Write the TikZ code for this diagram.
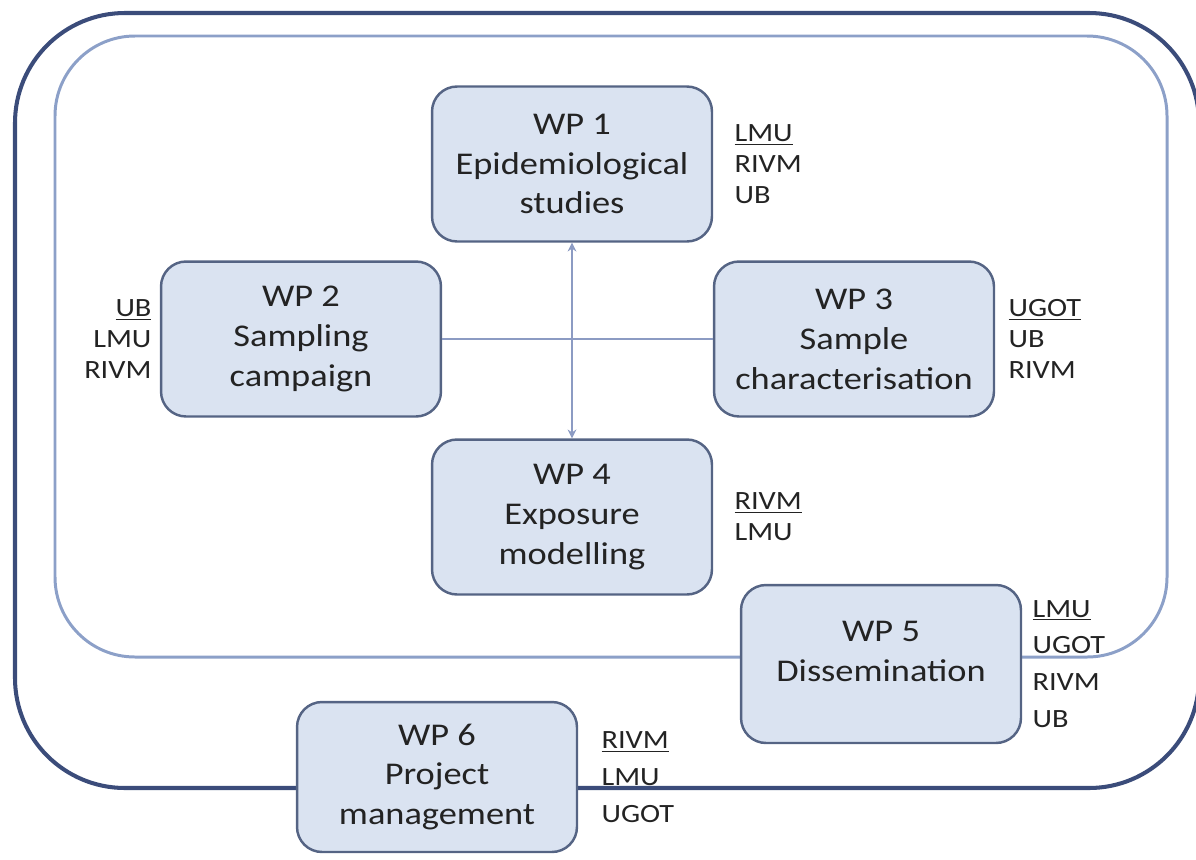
\documentclass[tikz,border=0pt]{standalone}
\usepackage{fontspec}
\usepackage{tikz}
\usetikzlibrary{positioning,arrows.meta}
\newfontfamily\wpfont[FakeStretch=1.15]{Carlito}
\definecolor{outerblue}{RGB}{59,76,122}
\definecolor{innerblue}{RGB}{140,160,200}
\definecolor{boxfill}{RGB}{218,227,241}
\definecolor{boxline}{RGB}{85,100,132}
\definecolor{linkblue}{RGB}{140,155,195}
\definecolor{txtgray}{RGB}{35,35,35}

\begin{document}
\begin{tikzpicture}[x=0.02cm, y=-0.02cm,
  wp/.style={draw=boxline, fill=boxfill, rounded corners=0.5cm, line width=1.4pt,
             minimum width=5.6cm, minimum height=3.1cm, inner sep=0pt,
             align=center, text=txtgray, font=\wpfont\fontsize{18}{22.7}\selectfont},
  partner/.style={inner sep=0pt, align=left, text=txtgray,
                  font=\wpfont\fontsize{15}{17.6}\selectfont},
  partnerwide/.style={partner, font=\wpfont\fontsize{15}{21}\selectfont},
  link/.style={line width=0.9pt, draw=linkblue},
  outerframe/.style={draw=outerblue, line width=2.3pt, rounded corners=2.2cm},
  innerframe/.style={draw=innerblue, line width=1.7pt, rounded corners=1.6cm}
]
\useasboundingbox (0,0) rectangle (1196,859);

% frames
\draw[outerframe] (15,13) rectangle (1199,788);
\draw[innerframe] (55,36) rectangle (1167,657);

% work packages
\node[wp] (wp1) at (572,164) {WP 1\\Epidemiological\\studies};
\node[wp] (wp2) at (301,339) {WP 2\\Sampling\\campaign};
\node[wp] (wp3) at (854,339) {WP 3\\Sample\\characterisation};
\node[wp] (wp4) at (572,517) {WP 4\\Exposure\\modelling};
\node[wp, minimum height=3.16cm, text depth=0.5cm] (wp5) at (881,664) {WP 5\\Dissemination};
\node[wp, minimum height=3.0cm] (wp6) at (437,777) {WP 6\\Project\\management};

% links
\draw[link, {Stealth[length=5pt,width=5pt]}-{Stealth[length=5pt,width=5pt]}] (wp1) -- (wp4);
\draw[link] (wp2) -- (wp3);

% partners
\node[partner, right=0.42cm of wp1] (p1) {\underline{LMU}\\RIVM\\UB};
\node[partner, align=right, left=0.16cm of wp2] (p2) {\underline{UB}\\LMU\\RIVM};
\node[partner, right=0.26cm of wp3] (p3) {\underline{UGOT}\\UB\\RIVM};
\node[partner, right=0.42cm of wp4] (p4) {\underline{RIVM}\\LMU};
\node[partnerwide, right=0.2cm of wp5] (p5) {\underline{LMU}\\UGOT\\RIVM\\UB};
\node[partnerwide, right=0.46cm of wp6] (p6) {\underline{RIVM}\\LMU\\UGOT};
\end{tikzpicture}
\end{document}
